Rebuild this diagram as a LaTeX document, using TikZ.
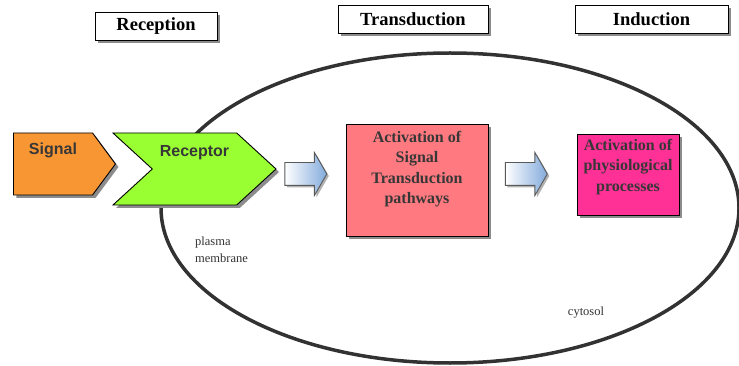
\documentclass[tikz,border=0pt]{standalone}
\usepackage{fontspec}
\setmainfont{Liberation Serif}
\setsansfont{Liberation Sans}
\usepackage{xcolor}
\usepackage{tikz}
\usetikzlibrary{arrows.meta,positioning,shapes.symbols,shapes.arrows,shadows}

\definecolor{signalorange}{RGB}{248,150,52}
\definecolor{receptorgreen}{RGB}{153,255,51}
\definecolor{pathwaypink}{RGB}{255,122,128}
\definecolor{processmagenta}{RGB}{255,48,150}
\definecolor{arrowblue}{RGB}{130,170,220}
\definecolor{membranegray}{RGB}{50,50,50}
\definecolor{textgray}{RGB}{55,55,55}

\begin{document}
\begin{tikzpicture}[x=1pt, y=-1pt,
    boxshadow/.style={drop shadow={shadow xshift=3pt, shadow yshift=-3pt, fill=black!45, opacity=1}},
    header/.style={draw=black, fill=white, line width=0.9pt, minimum height=28pt, inner sep=0pt, boxshadow,
        font=\bfseries\fontsize{18.5}{22}\selectfont},
    stage/.style={shape=signal, signal to=east, draw=black, line width=0.9pt, inner sep=0pt, boxshadow,
        font=\sffamily\bfseries\fontsize{16}{19}\selectfont, text=textgray},
    pathbox/.style={draw=black, line width=0.9pt, inner sep=0pt, boxshadow},
    boxtext/.style={align=center, inner sep=0pt, text=textgray, font=\bfseries\fontsize{16}{20.5}\selectfont},
    flowarrow/.style={single arrow, draw=black!65, line width=0.9pt, left color=white, right color=arrowblue,
        minimum height=42pt, minimum width=42pt, single arrow head extend=10pt, single arrow tip angle=120,
        inner sep=0pt, text height=11pt, text depth=11pt,
        drop shadow={shadow xshift=2pt, shadow yshift=-2pt, fill=black!30, opacity=1}},
    note/.style={align=left, inner sep=0pt, text=black!80, font=\fontsize{12.5}{17}\selectfont}]

    \useasboundingbox (0,0) rectangle (739,366);

    % Cell membrane
    \draw[membranegray, line width=3.5pt] (450,208) ellipse [x radius=289pt, y radius=155pt];

    % Stage headers
    \node[header, minimum width=122pt] (reception) at (156,26) {Reception};
    \node[header, minimum width=150pt] (transduction) at (413,19) {Transduction};
    \node[header, minimum width=153pt] (induction) at (651.5,19) {Induction};

    % Signal and receptor
    \node[stage, fill=signalorange, signal pointer angle=107, minimum width=102pt, minimum height=62pt]
        (signal) at (53,164) {\raisebox{9pt}[0pt][0pt]{Signal}};
    \node[stage, fill=receptorgreen, signal from=west, signal pointer angle=85, minimum width=163pt,
        minimum height=72pt] (receptor) at (194.5,169) {\raisebox{12pt}[0pt][0pt]{Receptor}};

    % Pathways
    \node[pathbox, fill=pathwaypink, minimum width=142pt, minimum height=112pt] (pathway) at (417,180) {};
    \node[boxtext, below=7pt of pathway.north] (pathwaytext)
        {Activation of\\Signal\\Transduction\\pathways};

    \node[pathbox, fill=processmagenta, minimum width=102pt, minimum height=81pt] (process) at (628,174.5) {};
    \node[boxtext, below=5pt of process.north] (processtext)
        {Activation of\\physiological\\processes};

    % Flow arrows
    \node[flowarrow] (flowa) at (302.5,174) {};
    \node[flowarrow] (flowb) at (523,174) {};

    % Labels
    \node[note, anchor=north west] (membrane) at (195,237) {plasma\\membrane};
    \node[note] (cytosol) at (586,313) {cytosol};
\end{tikzpicture}
\end{document}
